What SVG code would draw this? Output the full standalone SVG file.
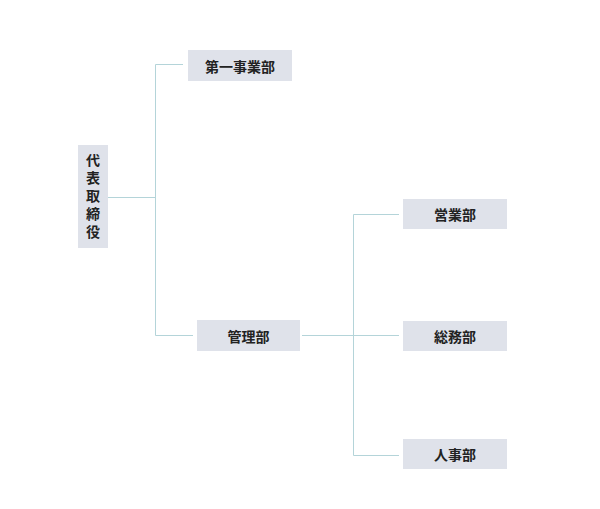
<svg xmlns="http://www.w3.org/2000/svg" width="600" height="509" viewBox="0 0 600 509">
<style>
.box{fill:#dfe2ea}
.t{font-family:"Noto Sans CJK JP","Noto Sans",sans-serif;font-size:14px;font-weight:bold;fill:#222;text-anchor:middle;dominant-baseline:central}
.v{writing-mode:vertical-rl;letter-spacing:4px}
.c{fill:none;stroke:#b4d4d9;stroke-width:1}
</style>
<rect width="600" height="509" fill="#fff"/>
<g id="connectors">
<path class="c" d="M108 197.5H155.5M155.5 64.5V335.5M155.5 64.5H183M155.5 335.5H193"/>
<path class="c" d="M302 335.5H399M353.5 214.5V455.5M353.5 214.5H399M353.5 455.5H399"/>
</g>
<g id="n-ceo">
<rect class="box" x="78" y="145" width="30" height="103"/>
<text class="t v" x="93" y="198">代表取締役</text>
</g>
<g id="n-div1">
<rect class="box" x="188" y="50" width="104" height="31"/>
<text class="t" x="240" y="65.5">第一事業部</text>
</g>
<g id="n-admin">
<rect class="box" x="197" y="320" width="103" height="31"/>
<text class="t" x="248.5" y="335.5">管理部</text>
</g>
<g id="n-sales">
<rect class="box" x="403" y="199" width="104" height="30"/>
<text class="t" x="455" y="214">営業部</text>
</g>
<g id="n-general">
<rect class="box" x="403" y="321" width="104" height="30"/>
<text class="t" x="455" y="336">総務部</text>
</g>
<g id="n-hr">
<rect class="box" x="403" y="439" width="104" height="30"/>
<text class="t" x="455" y="454">人事部</text>
</g>
</svg>
